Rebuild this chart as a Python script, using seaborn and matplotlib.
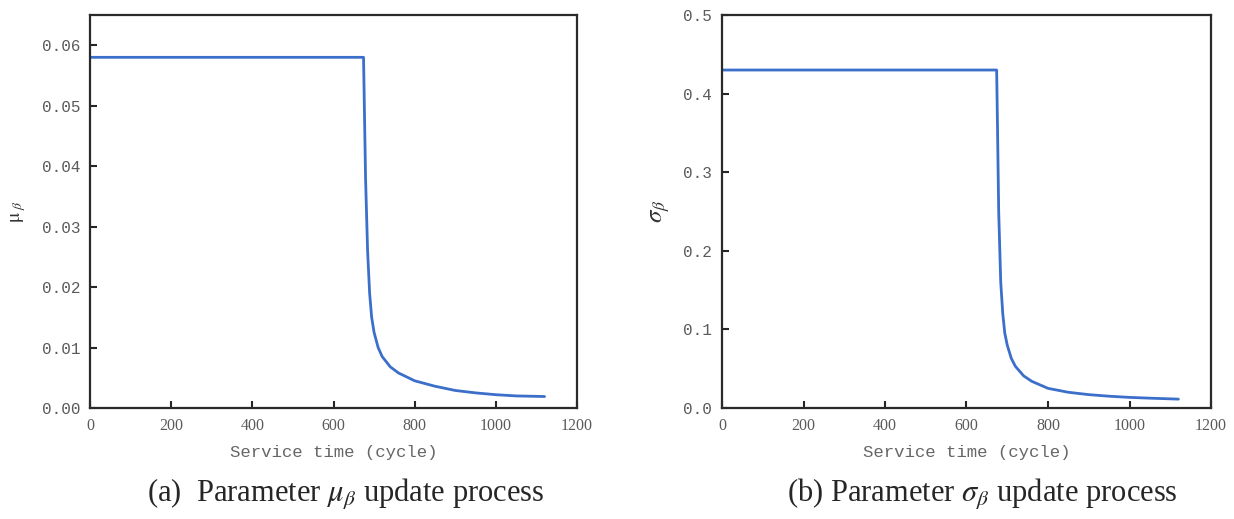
import matplotlib
matplotlib.use("Agg")
import matplotlib.pyplot as plt
import seaborn as sns
import pandas as pd

# service time (cycle) and parameter values
cycles = [0, 674, 676, 679, 684, 689, 694, 700, 710, 720, 740, 760, 800, 850, 900, 950, 1000, 1050, 1120]
mu_beta = [0.058, 0.058, 0.050, 0.038, 0.026, 0.019, 0.015, 0.0125, 0.0100, 0.0085, 0.0068, 0.0058,
           0.0045, 0.0036, 0.0029, 0.0025, 0.0022, 0.0020, 0.0019]
sigma_beta = [0.43, 0.43, 0.36, 0.25, 0.16, 0.12, 0.095, 0.080, 0.063, 0.053, 0.041, 0.034,
              0.025, 0.020, 0.017, 0.015, 0.0135, 0.0125, 0.0113]

mu_ticks = [0.00, 0.01, 0.02, 0.03, 0.04, 0.05, 0.06]
sigma_ticks = [0.0, 0.1, 0.2, 0.3, 0.4, 0.5]
x_ticks = [0, 200, 400, 600, 800, 1000, 1200]

df = pd.DataFrame({"cycle": cycles, "mu": mu_beta, "sigma": sigma_beta})

sns.set_style("ticks")
plt.rcParams["font.family"] = ["Liberation Serif", "DejaVu Serif"]
plt.rcParams["mathtext.fontset"] = "stix"

fig = plt.figure(figsize=(12.34, 5.19), dpi=100)
ax1 = fig.add_axes([90 / 1234, 1 - 408 / 519, 487 / 1234, 393 / 519])
ax2 = fig.add_axes([722 / 1234, 1 - 408 / 519, 489 / 1234, 393 / 519])

line_color = "#3b6fca"
tick_color = "#5a5a5a"

sns.lineplot(data=df, x="cycle", y="mu", ax=ax1, color=line_color, linewidth=2, estimator=None)
sns.lineplot(data=df, x="cycle", y="sigma", ax=ax2, color=line_color, linewidth=2, estimator=None)

ax1.set_ylim(0, 0.065)
ax1.set_yticks(mu_ticks)
ax1.set_yticklabels([f"{t:.2f}" for t in mu_ticks])
ax2.set_ylim(0, 0.5)
ax2.set_yticks(sigma_ticks)
ax2.set_yticklabels([f"{t:.1f}" for t in sigma_ticks])

for ax in (ax1, ax2):
    ax.set_xlim(0, 1200)
    ax.set_xticks(x_ticks)
    ax.tick_params(direction="in", length=5, width=1.5, labelcolor=tick_color, pad=7)
    for lab in ax.get_xticklabels():
        lab.set_family(["Liberation Serif"])
        lab.set_fontsize(11.5)
    for lab in ax.get_yticklabels():
        lab.set_family(["Liberation Mono"])
        lab.set_fontsize(11.5)
    for s in ax.spines.values():
        s.set_linewidth(1.6)
        s.set_color("#2a2a2a")
    ax.set_xlabel("Service time (cycle)", family="Liberation Mono", fontsize=12.5,
                  color="#666666", labelpad=8)

ax1.set_ylabel(r"$\mathrm{\mu}_{\ \beta}$", fontsize=14, color="#333333", labelpad=10)
ax2.set_ylabel(r"$\sigma_{\beta}$", fontsize=18, color="#333333", labelpad=8)

fig.text(0.2805, 0.033, r"(a)  Parameter $\mu_{\beta}$ update process", ha="center",
         fontsize=22, family="Liberation Serif")
fig.text(0.796, 0.033, r"(b) Parameter $\sigma_{\beta}$ update process", ha="center",
         fontsize=22, family="Liberation Serif")

fig.savefig("out.png", dpi=100)
